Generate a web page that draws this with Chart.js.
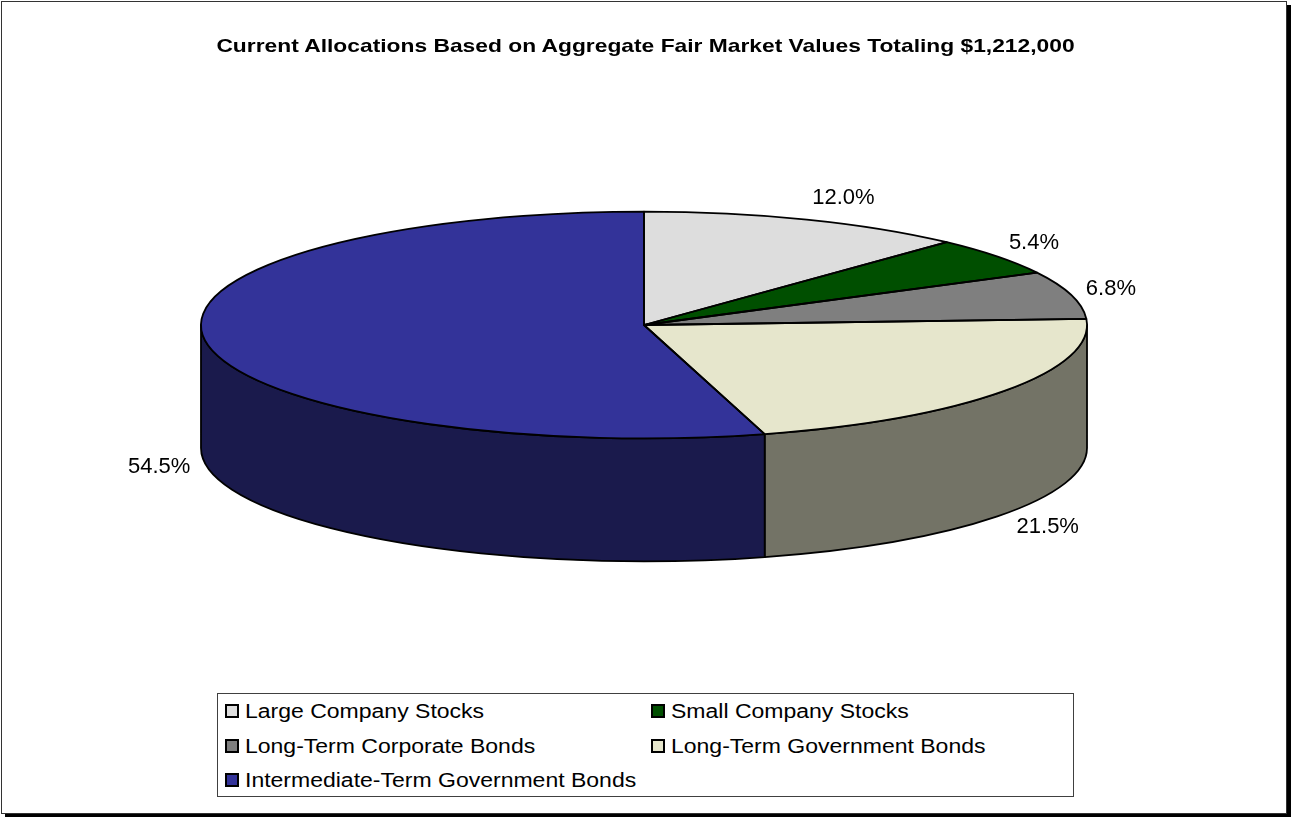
<!DOCTYPE html>
<html>
<head>
<meta charset="utf-8">
<title>Current Allocations</title>
<script src="https://cdn.jsdelivr.net/npm/chart.js@4.4.0/dist/chart.umd.min.js"></script>
<style>
    body { margin: 0; background: #fff; font-family: "Liberation Sans", Arial, sans-serif; }
    #frame { position: absolute; left: 1px; top: 1px; width: 1284px; height: 811px; border: 1px solid #333; box-shadow: 4px 4px 0 #000; background: #fff; }
    #wrap { position: absolute; left: 0; top: 0; width: 1291px; height: 817px; }
    #chart-title { position: absolute; left: 0; top: 36px; width: 1291px; text-align: center; font-weight: bold; font-size: 19px; line-height: 20px; transform: scaleX(1.2); white-space: nowrap; }
    #legend { position: absolute; left: 217px; top: 693px; width: 855px; height: 102px; border: 1px solid #404040; background: #fff; }
    .legend-item { position: absolute; height: 20px; display: flex; align-items: center; white-space: nowrap; }
    .legend-box { width: 14px; height: 14px; box-sizing: border-box; border: 2px solid #000; }
    .legend-text { display: inline-block; margin-left: 6px; font-size: 20px; line-height: 20px; transform: scaleX(1.15); transform-origin: left center; }
</style>
</head>
<body>
<div id="frame"></div>
<div id="wrap"><canvas id="allocation-chart"></canvas></div>
<div id="chart-title"></div>
<div id="legend"></div>

<script>
const titleText = 'Current Allocations Based on Aggregate Fair Market Values Totaling $1,212,000';
const categories = [
    'Large Company Stocks',
    'Small Company Stocks',
    'Long-Term Corporate Bonds',
    'Long-Term Government Bonds',
    'Intermediate-Term Government Bonds'
];
const shares = [12.0, 5.4, 6.8, 21.5, 54.5];
const topColors = ['#DDDDDD', '#004F00', '#7F7F7F', '#E6E6CC', '#333399'];
const sideColors = ['#6E6E6E', '#002800', '#404040', '#737366', '#1A1A4C'];

// how flat the pie looks and how thick the wall is
const TILT = 0.256;
const DEPTH = 123;
const EDGE = 1.8;

const pie3d = {
    id: 'pie3d',
    beforeDatasetsDraw(chart) {
        const ctx = chart.ctx;
        const arcs = chart.getDatasetMeta(0).data;
        const { x: cx, y: cy, outerRadius: rx } = arcs[0];
        const ry = rx * TILT;

        // front walls, only the part between 0 and PI faces us
        ctx.save();
        ctx.lineWidth = EDGE;
        ctx.strokeStyle = '#000';
        ctx.lineJoin = 'round';
        arcs.forEach((arc, i) => {
            const a0 = Math.max(arc.startAngle, 0);
            const a1 = Math.min(arc.endAngle, Math.PI);
            if (a1 <= a0) return;
            ctx.beginPath();
            ctx.ellipse(cx, cy, rx, ry, 0, a0, a1, false);
            ctx.lineTo(cx + rx * Math.cos(a1), cy + ry * Math.sin(a1) + DEPTH);
            ctx.ellipse(cx, cy + DEPTH, rx, ry, 0, a1, a0, true);
            ctx.closePath();
            ctx.fillStyle = sideColors[i];
            ctx.fill();
            ctx.stroke();
        });
        ctx.restore();

        // squash the top face that chart.js draws next
        ctx.save();
        ctx.translate(cx, cy);
        ctx.scale(1, TILT);
        ctx.translate(-cx, -cy);
    },
    afterDatasetsDraw(chart) {
        const ctx = chart.ctx;
        ctx.restore();

        const arcs = chart.getDatasetMeta(0).data;
        const { x: cx, y: cy, outerRadius: rx } = arcs[0];
        const ry = rx * TILT;

        ctx.save();
        ctx.lineWidth = EDGE;
        ctx.strokeStyle = '#000';
        ctx.lineJoin = 'round';
        arcs.forEach(arc => {
            ctx.beginPath();
            ctx.moveTo(cx, cy);
            ctx.ellipse(cx, cy, rx, ry, 0, arc.startAngle, arc.endAngle, false);
            ctx.closePath();
            ctx.stroke();
        });

        // percentage labels just outside the rim
        ctx.font = '22px "Liberation Sans", Arial, sans-serif';
        ctx.fillStyle = '#000';
        ctx.textBaseline = 'middle';
        arcs.forEach((arc, i) => {
            const mid = (arc.startAngle + arc.endAngle) / 2;
            const cos = Math.cos(mid);
            const sin = Math.sin(mid);
            const lx = cx + (rx + 15) * cos;
            let ly = cy + (ry + 15) * sin + sin * 8;
            if (sin > 0) ly += DEPTH;
            ctx.textAlign = cos >= 0 ? 'left' : 'right';
            ctx.fillText(shares[i].toFixed(1) + '%', lx, ly);
        });
        ctx.restore();
    }
};

function renderLegend() {
    const legend = document.querySelector('#legend');
    categories.forEach((name, i) => {
        const item = document.createElement('div');
        item.className = 'legend-item';
        item.style.left = (i % 2 === 0 ? 7 : 433) + 'px';
        item.style.top = (7 + Math.floor(i / 2) * 34.5) + 'px';

        const box = document.createElement('span');
        box.className = 'legend-box';
        box.style.background = topColors[i];

        const text = document.createElement('span');
        text.className = 'legend-text';
        text.textContent = name;

        item.appendChild(box);
        item.appendChild(text);
        legend.appendChild(item);
    });
}

document.querySelector('#chart-title').textContent = titleText;
renderLegend();

new Chart(document.querySelector('#allocation-chart'), {
    type: 'pie',
    data: {
        labels: categories,
        datasets: [{
            data: shares,
            backgroundColor: topColors,
            borderWidth: 0
        }]
    },
    options: {
        responsive: true,
        maintainAspectRatio: false,
        animation: false,
        events: [],
        radius: 443,
        layout: {
            padding: { left: 0, right: 3, top: 0, bottom: 167 }
        },
        plugins: {
            legend: { display: false },
            tooltip: { enabled: false },
            title: { display: false }
        }
    },
    plugins: [pie3d]
});
</script>
</body>
</html>
